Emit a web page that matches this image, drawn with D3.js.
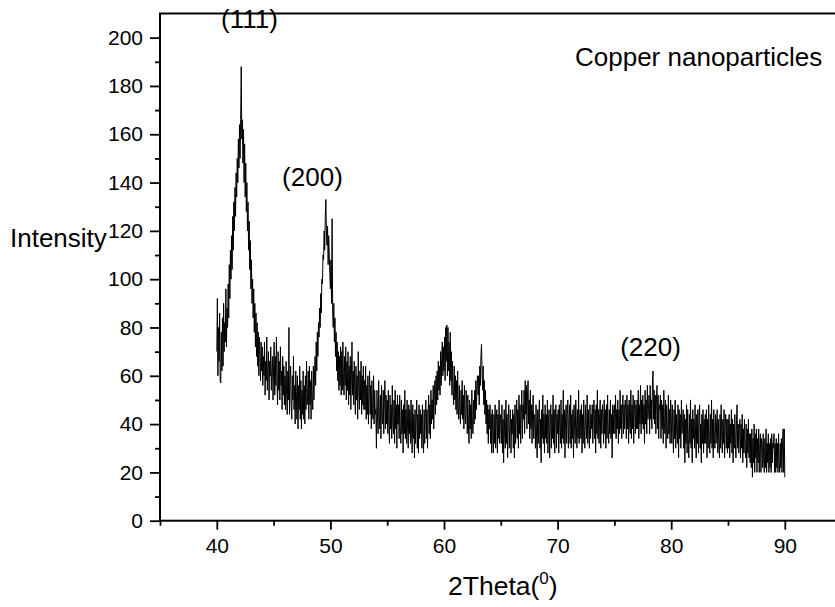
<!DOCTYPE html>
<html><head><meta charset="utf-8">
<script src="https://cdn.jsdelivr.net/npm/d3@7"></script>
<style>body{margin:0;background:#fff}svg{display:block}</style>
</head><body>
<svg id="chart" width="835" height="607"></svg>
<script>
// XRD scan grid (degrees 2θ)
const scanStart = 40, scanStep = 0.05;
// Intensity, 20 readings per degree
const intensity40s = [
70,92,60,80,66,86,58,57,78,62,84,64,90,70,82,74,96,72,88,80,
98,84,106,92,112,100,118,104,126,112,132,120,138,126,144,134,150,140,158,146,
164,150,166,188,158,166,148,162,140,156,134,148,128,140,120,132,112,124,104,116,
96,108,90,100,84,96,78,90,72,86,68,82,64,78,60,76,68,58,74,62,
72,56,68,60,74,52,66,58,76,54,64,70,50,66,60,72,54,62,68,50,
64,74,52,68,56,76,58,48,70,54,66,50,72,56,62,46,68,52,64,48,
60,46,66,52,44,62,50,80,44,58,64,48,42,60,50,68,46,56,40,62,
54,42,60,38,56,46,64,42,58,38,54,44,62,42,56,40,60,46,66,48,
52,62,42,64,48,58,42,62,50,46,64,50,60,68,56,74,62,78,68,82,
76,88,80,94,86,100,98,110,108,120,112,126,133,120,114,122,106,118,110,102
];
const intensity50s = [
96,108,90,125,86,80,90,74,84,68,78,62,74,58,70,54,68,56,72,52,
70,54,74,58,52,68,56,72,50,66,54,70,48,64,52,68,46,60,74,52,
62,48,66,52,44,64,50,60,42,70,54,46,62,50,66,44,60,48,64,46,
58,46,64,42,56,44,60,40,54,62,44,56,38,58,46,42,60,40,54,44,
46,30,54,42,36,58,44,38,52,34,56,42,40,54,36,50,58,38,52,40,
50,36,54,40,32,52,38,48,34,56,40,36,50,32,54,38,48,30,52,40,
48,34,52,38,32,50,36,46,28,48,36,54,34,46,32,50,38,30,48,36,
46,32,50,36,28,48,34,44,26,46,32,42,50,30,44,28,48,34,46,36,
44,30,48,34,28,46,32,42,50,34,46,30,44,52,36,48,34,54,40,50,
42,56,38,52,58,44,60,48,62,50,66,54,64,52,70,56,68,74,60,72
];
const intensity60s = [
62,76,58,80,66,81,60,80,62,74,56,78,58,70,52,66,54,48,64,50,
60,46,58,44,62,48,42,56,46,40,54,44,58,42,52,38,56,44,40,54,
48,36,52,40,32,50,38,48,34,54,40,36,50,40,54,42,58,46,56,60,
52,60,48,64,56,68,73,62,54,64,48,58,44,54,40,50,36,48,32,46,
38,48,32,44,28,46,34,28,44,32,48,30,42,46,28,44,34,50,32,42,
44,32,48,28,42,24,46,34,30,50,32,44,26,42,48,30,40,46,28,42,
36,46,30,44,26,48,32,42,50,34,46,30,52,36,48,32,44,54,34,48,
42,54,36,58,44,56,38,52,58,40,50,34,54,38,48,32,46,52,34,44,
42,30,48,34,26,46,32,44,50,30,42,24,46,34,52,32,44,28,48,34,
44,32,50,28,42,46,26,40,48,30,44,34,52,32,46,28,42,48,30,44
];
const intensity70s = [
36,46,28,48,38,32,50,30,44,34,54,32,46,26,42,48,32,44,50,30,
42,48,32,52,30,44,34,46,26,48,38,32,50,40,30,46,34,54,32,44,
46,34,48,28,44,32,50,38,30,48,40,34,52,32,46,36,30,48,34,44,
38,48,32,44,50,34,46,28,48,36,54,34,46,32,44,50,30,46,36,48,
44,32,50,36,46,30,48,34,52,38,32,46,36,50,34,44,26,48,36,46,
48,36,52,34,46,38,50,32,46,36,54,38,48,34,46,52,36,48,38,50,
46,34,52,38,48,32,50,40,36,54,34,48,38,52,32,46,50,36,48,38,
50,38,54,34,48,40,56,36,50,40,52,38,48,32,54,40,50,36,56,42,
46,52,36,56,42,50,38,58,62,42,54,40,52,36,50,56,38,52,34,48,
46,52,34,50,38,48,32,54,40,36,50,30,48,38,34,52,36,46,32,50
];
const intensity80s = [
44,32,48,36,28,46,34,50,30,44,36,32,48,26,46,34,44,30,50,36,
40,46,30,44,24,42,32,48,28,46,34,26,44,32,50,30,42,24,46,34,
42,30,48,34,26,44,32,46,28,42,48,30,40,24,44,32,46,28,42,32,
44,32,46,26,42,30,48,34,28,44,32,50,30,42,26,46,34,30,44,32,
40,46,28,42,32,26,44,30,48,34,28,42,32,46,26,40,44,30,42,28,
42,30,44,26,40,32,46,28,42,24,40,30,44,32,26,42,48,30,40,28,
38,42,26,40,30,44,24,38,28,42,30,26,40,22,38,28,42,26,36,24,
36,22,38,18,34,24,40,20,36,26,38,20,34,24,38,20,32,36,20,34,
32,22,36,24,20,34,22,38,20,32,24,36,20,32,22,34,20,36,24,32,
30,36,20,32,20,34,22,32,20,36,24,20,32,22,34,20,32,38,20,38,
18
];
const xMajorTicks = [40, 50, 60, 70, 80, 90];
const xMinorTicks = [35, 45, 55, 65, 75, 85, 95];
const yMajorTicks = [0, 20, 40, 60, 80, 100, 120, 140, 160, 180, 200];
const yMinorTicks = [10, 30, 50, 70, 90, 110, 130, 150, 170, 190];
const peakLabels = ["(111)", "(200)", "(220)"];
const peakLabelAt2Theta = [42.88, 48.42, 78.18];
const peakLabelAtIntensity = [204, 138.5, 68.2];
const chartTitle = "Copper nanoparticles";
const xTitle = "2Theta(";
const yTitle = "Intensity";

const intensities = [].concat(intensity40s, intensity50s, intensity60s, intensity70s, intensity80s);
const points = intensities.map((v, i) => [scanStart + i * scanStep, v]);

const FONT = "'Liberation Sans', Arial, sans-serif";
const mLeft = 160, mTop = 13.5, mBottom = 520.7, pxPerDeg = 11.36;
const x = d3.scaleLinear().domain([35, 95]).range([mLeft, mLeft + 60 * pxPerDeg]);
const y = d3.scaleLinear().domain([0, 210]).range([mBottom, mTop]);

const svg = d3.select("#chart").style("font-family", FONT);
svg.append("rect").attr("width", 835).attr("height", 607).attr("fill", "#fff");

// data line
svg.append("path")
  .datum(points)
  .attr("fill", "none")
  .attr("stroke", "#000")
  .attr("stroke-width", 1)
  .attr("d", d3.line().x(d => x(d[0])).y(d => y(d[1])));

// frame
svg.append("rect")
  .attr("x", x(35)).attr("y", y(210))
  .attr("width", x(95) - x(35)).attr("height", y(0) - y(210))
  .attr("fill", "none").attr("stroke", "#000").attr("stroke-width", 2);

function styleAxis(g) {
  g.select(".domain").remove();
  g.selectAll("line").attr("stroke", "#000").attr("stroke-width", 1.8);
  g.selectAll("text").attr("fill", "#000").style("font-size", "21px").style("font-family", FONT);
}

svg.append("g").attr("transform", `translate(0,${mBottom})`)
  .call(d3.axisBottom(x).tickValues(xMajorTicks).tickSize(9).tickPadding(8).tickFormat(d3.format("d")))
  .call(styleAxis);
svg.append("g").attr("transform", `translate(0,${mBottom})`)
  .call(d3.axisBottom(x).tickValues(xMinorTicks).tickSize(5).tickFormat(""))
  .call(styleAxis);
svg.append("g").attr("transform", `translate(${mLeft},0)`)
  .call(d3.axisLeft(y).tickValues(yMajorTicks).tickSize(10).tickPadding(7).tickFormat(d3.format("d")))
  .call(styleAxis);
svg.append("g").attr("transform", `translate(${mLeft},0)`)
  .call(d3.axisLeft(y).tickValues(yMinorTicks).tickSize(5).tickFormat(""))
  .call(styleAxis);

// peak labels
svg.append("g").selectAll("text").data(peakLabels).join("text")
  .attr("x", (d, i) => x(peakLabelAt2Theta[i]))
  .attr("y", (d, i) => y(peakLabelAtIntensity[i]))
  .attr("text-anchor", "middle")
  .style("font-size", "26px")
  .attr("fill", "#000")
  .text(d => d);

// title
svg.append("text").attr("x", 575).attr("y", 66)
  .style("font-size", "26px").attr("fill", "#000").text(chartTitle);

// axis titles
svg.append("text").attr("x", 10).attr("y", 247)
  .style("font-size", "26px").attr("fill", "#000").text(yTitle);

const xt = svg.append("text").attr("x", 448).attr("y", 595)
  .style("font-size", "26.5px").attr("fill", "#000");
xt.append("tspan").text(xTitle);
xt.append("tspan").attr("dy", -11).style("font-size", "17px").text("0");
xt.append("tspan").attr("dy", 11).text(")");
</script>
</body></html>
